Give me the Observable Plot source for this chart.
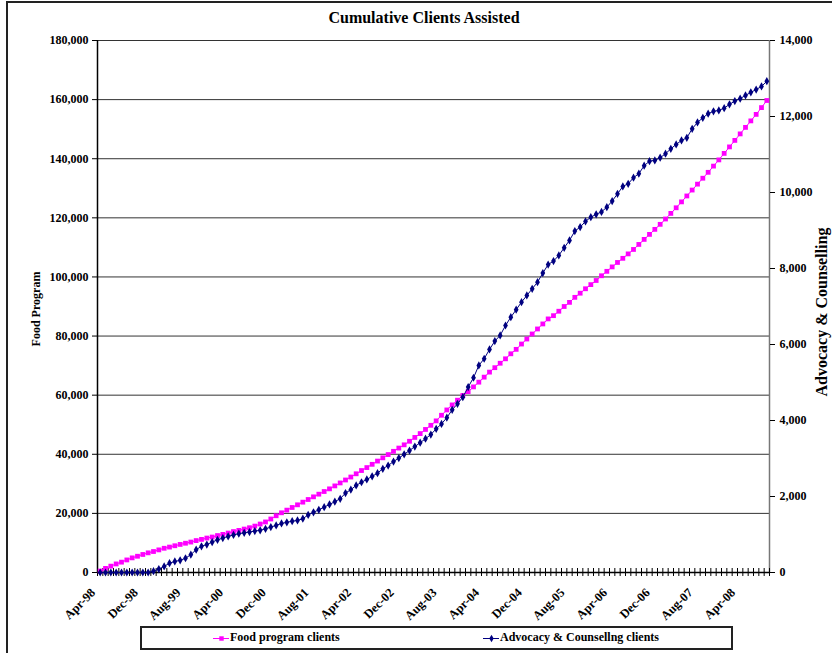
<!DOCTYPE html>
<html><head><meta charset="utf-8">
<script src="https://cdn.jsdelivr.net/npm/d3@7"></script>
<script src="https://cdn.jsdelivr.net/npm/@observablehq/plot@0.6"></script>
<style>
body{margin:0;background:#fff;}
#wrap{position:relative;width:832px;height:653px;overflow:hidden;background:#fff;font-family:"Liberation Serif","Times New Roman",serif;font-weight:bold;color:#000;}
#frame{position:absolute;left:6px;top:1px;width:900px;height:700px;border:2px solid #222;}
#chart{position:absolute;left:0;top:0;}
#title{position:absolute;left:0;top:9px;width:848px;text-align:center;font-size:16px;}
.ytitle{position:absolute;font-size:12px;white-space:nowrap;transform:translate(-50%,-50%) rotate(-90deg);}
#legend{position:absolute;left:140px;top:626px;width:589px;height:20px;border:2px solid #222;font-size:12px;}
.item{position:absolute;top:2px;display:flex;align-items:center;white-space:nowrap;}
.item svg{margin-right:1px;}
</style></head><body>
<div id="wrap">
  <div id="frame"></div>
  <div id="chart"></div>
  <div id="title">Cumulative Clients Assisted</div>
  <div class="ytitle" style="left:36px;top:309px;">Food Program</div>
  <div class="ytitle" style="left:822px;top:312px;font-size:16px;">Advocacy &amp; Counselling</div>
  <div id="legend"></div>
</div>
<script>
const xLabels = ["Apr-98","Dec-98","Aug-99","Apr-00","Dec-00","Aug-01","Apr-02","Dec-02","Aug-03","Apr-04","Dec-04","Aug-05","Apr-06","Dec-06","Aug-07","Apr-08"];
const labelEvery = 8;

const food = [
  500, 1400, 2150, 2900, 3500, 4250, 4950, 5500, 6100, 6650,
  7100, 7650, 8200, 8600, 9050, 9500, 9900, 10300, 10800, 11200,
  11650, 12000, 12500, 12900, 13350, 13850, 14250, 14700, 15150, 15700,
  16400, 17100, 18100, 19200, 20200, 21100, 22000, 22900, 23800, 24700,
  25600, 26500, 27400, 28300, 29300, 30300, 31300, 32300, 33400, 34500,
  35500, 36600, 37700, 38800, 39900, 41000, 42100, 43200, 44400, 45700,
  47000, 48400, 49800, 51300, 53200, 55000, 56700, 58300, 59900, 61200,
  62800, 64400, 66100, 67800, 69300, 70800, 72300, 74000, 75500, 77300,
  79000, 80700, 82400, 84100, 85800, 86900, 88400, 90000, 91400, 93100,
  94500, 96000, 97400, 98800, 100400, 101900, 103400, 104900, 106300, 107800,
  109300, 111000, 112700, 114400, 116100, 117800, 119600, 121500, 123400, 125400,
  127400, 129400, 131400, 133400, 135400, 137500, 139600, 141800, 144000, 146200,
  148400, 150600, 152800, 155000, 157300, 159700
];

const advocacy = [
  0, 0, 0, 0, 0, 0, 0, 0, 0, 0,
  35, 90, 160, 245, 290, 320, 375, 470, 600, 690,
  735, 800, 860, 905, 950, 990, 1020, 1045, 1065, 1090,
  1110, 1150, 1195, 1240, 1290, 1320, 1350, 1370, 1415, 1515,
  1585, 1650, 1720, 1790, 1865, 1940, 2090, 2180, 2290, 2375,
  2450, 2530, 2615, 2730, 2815, 2920, 3010, 3110, 3210, 3315,
  3415, 3520, 3630, 3780, 3910, 4075, 4280, 4440, 4615, 4880,
  5125, 5450, 5625, 5870, 6090, 6240, 6500, 6720, 6915, 7115,
  7290, 7465, 7640, 7880, 8105, 8195, 8345, 8545, 8740, 8985,
  9090, 9240, 9350, 9425, 9490, 9615, 9775, 9965, 10160, 10230,
  10390, 10495, 10705, 10825, 10845, 10915, 11020, 11150, 11265, 11370,
  11440, 11675, 11845, 11965, 12075, 12135, 12160, 12220, 12320, 12405,
  12470, 12555, 12635, 12710, 12790, 12930
];

const leftTicks = [0, 20000, 40000, 60000, 80000, 100000, 120000, 140000, 160000, 180000];
const rightTicks = [0, 2000, 4000, 6000, 8000, 10000, 12000, 14000];
const legendNames = ["Food program clients", "Advocacy & Counsellng clients"];
const colors = ["#FF00FF", "#000080"];

const leftMax = leftTicks[leftTicks.length - 1];
const rightMax = rightTicks[rightTicks.length - 1];
const k = leftMax / rightMax;
const n = food.length;
const rows = food.map((f, i) => ({i, food: f, adv: advocacy[i] * k}));
const fmt = d3.format(",");
const tickLen = leftMax * 0.0075;

const chart = Plot.plot({
  width: 832,
  height: 625,
  marginLeft: 97,
  marginRight: 63,
  marginTop: 40,
  marginBottom: 53,
  x: {domain: [-0.5, n - 0.5]},
  y: {domain: [0, leftMax]},
  style: {fontFamily: "'Liberation Serif','Times New Roman',serif", fontSize: "12px", fontWeight: "bold", background: "transparent", color: "#000"},
  marks: [
    Plot.ruleY(leftTicks.slice(1), {stroke: "#333", strokeWidth: 1}),
    Plot.ruleX([n - 0.5], {stroke: "#777", strokeWidth: 1.5}),
    Plot.ruleX(d3.range(n + 1).map(i => i - 0.5), {y1: -tickLen, y2: tickLen, stroke: "#000", strokeWidth: 1}),
    Plot.ruleX([-0.5], {stroke: "#000", strokeWidth: 1.5}),
    Plot.ruleY([0], {stroke: "#000", strokeWidth: 1.5}),
    Plot.axisY(leftTicks, {anchor: "left", tickSize: 5, tickPadding: 4, tickFormat: fmt, label: null}),
    Plot.axisY(rightTicks.map(v => v * k), {anchor: "right", tickSize: 5, tickPadding: 5, tickFormat: d => fmt(Math.round(d / k)), label: null}),
    Plot.axisX(xLabels.map((_, j) => j * labelEvery), {tickFormat: d => xLabels[d / labelEvery], tickRotate: -45, tickSize: 0, tickPadding: 13, dx: -7, dy: 5, fontSize: 12.5, label: null}),
    Plot.line(rows, {x: "i", y: "food", stroke: colors[0], strokeWidth: 1}),
    Plot.dot(rows, {x: "i", y: "food", symbol: "square", r: 2.7, fill: colors[0]}),
    Plot.line(rows, {x: "i", y: "adv", stroke: colors[1], strokeWidth: 1}),
    Plot.dot(rows, {x: "i", y: "adv", symbol: "diamond", r: 2.5, fill: colors[1]})
  ]
});
document.getElementById("chart").appendChild(chart);

// legend
const legend = document.getElementById("legend");
const lefts = [71, 341];
legendNames.forEach((name, j) => {
  const item = document.createElement("div");
  item.className = "item";
  item.style.left = lefts[j] + "px";
  const sym = j === 0 ? "square" : "diamond";
  const sw = Plot.plot({
    width: 16, height: 14, margin: 0,
    x: {domain: [0, 1], axis: null}, y: {domain: [0, 1], axis: null},
    style: {background: "transparent"},
    marks: [
      Plot.ruleY([0.5], {x1: 0, x2: 1, stroke: colors[j], strokeWidth: 1}),
      Plot.dot([[0.5, 0.5]], {symbol: sym, r: j === 0 ? 2.5 : 2.3, fill: colors[j]})
    ]
  });
  item.appendChild(sw);
  const t = document.createElement("span");
  t.textContent = name;
  item.appendChild(t);
  legend.appendChild(item);
});
</script>
</body></html>
